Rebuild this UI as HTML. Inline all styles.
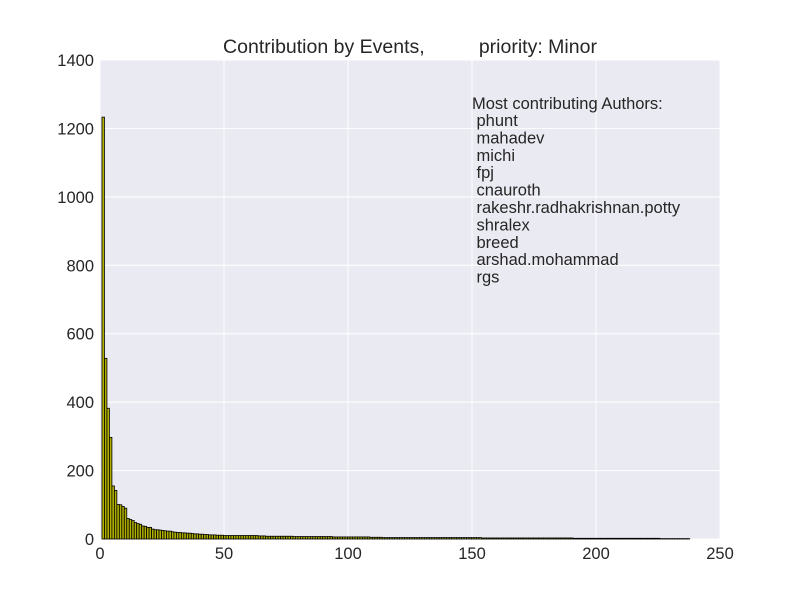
<!DOCTYPE html>
<html><head><meta charset="utf-8"><style>
body{margin:0;background:#fff;}
svg text{font-family:"Liberation Sans",sans-serif;fill:#262626;}
</style></head><body>
<svg id="chart" width="800" height="600">
<rect x="100" y="60" width="620" height="479" fill="#eaeaf2"/>
<g id="grid"></g>
<g id="bars"></g>
<g id="ticks"></g>
<text x="410" y="53" font-size="19.5" text-anchor="middle" xml:space="preserve">Contribution by Events,          priority: Minor</text>
<g id="annot"></g>
</svg>
<script>
const values = [1233,528,382,297,155,142,101,100,95,90,60,57,54,48,45,43,38,37,34,34,29,27,27,26,25,24,23,23,21,
20,19,19,18,18,17,17,16,15,15,14,14,13,13,12,12,12,11,11,11,
10,10,10,10,10,10,10,10,10,10,10,10,10,10,
9,9,9,8,8,8,8,8,8,8,8,8,8,8,7,7,7,7,7,7,7,7,7,7,7,7,7,7,7,7,6,6,6,6,6,6,6,6,6,6,6,6,6,6,6,5,5,5,5,5,
4,4,4,4,4,4,4,4,4,4,4,4,4,4,4,4,4,4,4,4,4,4,4,4,4,4,4,4,4,4,4,4,4,4,4,4,4,4,4,4,
3,3,3,3,3,3,3,3,3,3,3,3,3,3,3,3,3,3,3,3,3,3,3,3,3,3,3,3,3,3,3,3,3,3,3,3,3,
2,2,2,2,2,2,2,2,2,2,2,2,2,2,2,2,2,2,2,2,2,2,2,2,2,2,2,2,2,2,2,2,2,2,2,1,1,1,1,1,1,1,1,1,1,1,1];
const xTicks = [0,50,100,150,200,250];
const yTicks = [0,200,400,600,800,1000,1200,1400];
const authors = ["phunt","mahadev","michi","fpj","cnauroth","rakeshr.radhakrishnan.potty","shralex","breed","arshad.mohammad","rgs"];
const NS="http://www.w3.org/2000/svg";
const X=v=>100+v*620/250, Y=v=>539-v*479/1400;
function mk(tag,attrs,parent){const e=document.createElementNS(NS,tag);for(const k in attrs)e.setAttribute(k,attrs[k]);parent.appendChild(e);return e;}
const grid=document.getElementById('grid'),bars=document.getElementById('bars'),ticks=document.getElementById('ticks'),annot=document.getElementById('annot');
xTicks.forEach(t=>{
  const l=mk('line',{x1:X(t),x2:X(t),y1:60,y2:539,stroke:'#fff','stroke-width':1},grid);
  
  
  const tx=mk('text',{x:X(t),y:559,'font-size':16.5,'text-anchor':'middle'},ticks);tx.textContent=t;
  
  
});
yTicks.forEach(t=>{
  const l=mk('line',{x1:100,x2:720,y1:Y(t),y2:Y(t),stroke:'#fff','stroke-width':1},grid);
  
  
  const tx=mk('text',{x:94,y:Y(t)+6,'font-size':16.5,'text-anchor':'end'},ticks);tx.textContent=t;
  
  
});
values.forEach((v,i)=>{
  const x0=X(i+0.8),x1=X(i+1.8);
  const r=mk('rect',{x:x0,y:Y(v),width:x1-x0,height:Y(0)-Y(v),fill:'#b0b000',stroke:'#000','stroke-width':0.8},bars);
  
  
});
const h=mk('text',{x:472,y:109,'font-size':16.5},annot);h.textContent='Most contributing Authors:';


authors.forEach((a,i)=>{
  const t=mk('text',{x:476.5,y:126+i*17.4,'font-size':16.5},annot);t.textContent=a;
  
  
});
</script>
</body></html>
